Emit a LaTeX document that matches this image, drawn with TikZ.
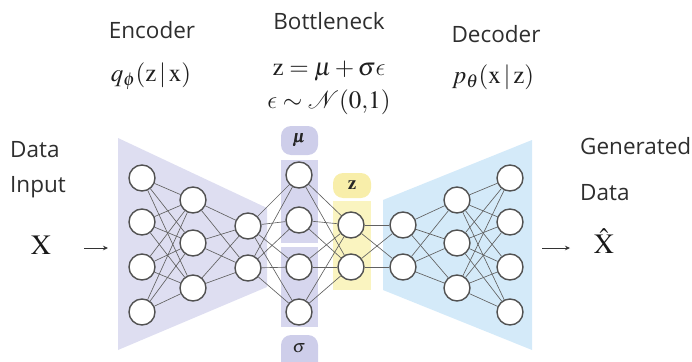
\documentclass[tikz,border=0pt]{standalone}
\usepackage{mathptmx}
\usepackage{bm}
\DeclareSymbolFont{cmlet}{OML}{cmm}{m}{it}
\DeclareMathSymbol{\lunateps}{\mathord}{cmlet}{"0F}
\usepackage{fontspec}
\newfontfamily\lab{Open Sans}
\usetikzlibrary{arrows.meta}
\definecolor{encfill}{RGB}{222,222,241}
\definecolor{musig}{RGB}{214,214,238}
\definecolor{pillc}{RGB}{206,206,234}
\definecolor{decfill}{RGB}{212,234,249}
\definecolor{yel}{RGB}{250,244,192}
\definecolor{yelpill}{RGB}{248,238,170}
\tikzset{
  neuron/.style={circle, draw=black!68, line width=1.4pt, fill=white, minimum size=26pt, inner sep=0pt},
  conn/.style={draw=black!62, line width=0.65pt},
  labtxt/.style={font=\lab\fontsize{22.5}{26}\selectfont, text=black!82, inner sep=0pt},
  mathtxt/.style={font=\fontsize{25}{29}\selectfont, text=black!88, inner sep=0pt},
  pill/.style={rounded corners=10pt, inner sep=0pt},
  arr/.style={-{Stealth[length=5pt,width=4.5pt]}, line width=0.8pt, draw=black!80}
}
\begin{document}
\begin{tikzpicture}[x=1pt,y=-1pt]
\useasboundingbox (0,0) rectangle (692,361);
% backgrounds
\fill[encfill] (118,138) -- (267,208) -- (267,287) -- (118,350) -- cycle;
\fill[decfill] (383,200) -- (532,140) -- (532,350) -- (383,290) -- cycle;
\fill[musig] (281,160) rectangle (318,243);
\fill[musig] (281,247) rectangle (318,327);
\fill[pillc, pill] (281,126) rectangle (318,155);
\fill[pillc, pill] (281,335) rectangle (318,374);
\fill[yel] (333,201) rectangle (371,290);
\fill[yelpill, pill] (333,173) rectangle (371,198);
% labels in pills
\node[font=\fontsize{18}{20}\selectfont, text=black!85] (mulab) at (299,140) {$\bm{\mu}$};
\node[font=\fontsize{18}{20}\selectfont, text=black!85] (siglab) at (299,348) {$\sigma$};
\node[font=\fontsize{19}{21}\selectfont, text=black!85] (zlab) at (352,185) {$\mathbf{z}$};
% neurons
\foreach \n/\y in {a/178,b/222,c/267,d/312} \node[neuron] (e1\n) at (142,\y) {};
\foreach \n/\y in {a/200,b/243,c/288} \node[neuron] (e2\n) at (193,\y) {};
\foreach \n/\y in {a/226,b/268} \node[neuron] (e3\n) at (248,\y) {};
\foreach \n/\y in {a/175,b/220,c/267,d/312} \node[neuron] (m\n) at (299,\y) {};
\foreach \n/\y in {a/225,b/267} \node[neuron] (z\n) at (351,\y) {};
\foreach \n/\y in {a/225,b/267} \node[neuron] (d1\n) at (403,\y) {};
\foreach \n/\y in {a/200,b/243,c/288} \node[neuron] (d2\n) at (457,\y) {};
\foreach \n/\y in {a/178,b/222,c/267,d/312} \node[neuron] (d3\n) at (510,\y) {};
% connections
\foreach \i in {a,b,c,d} \foreach \j in {a,b,c} \draw[conn] (e1\i) -- (e2\j);
\foreach \i in {a,b,c} \foreach \j in {a,b} \draw[conn] (e2\i) -- (e3\j);
\foreach \i in {a,b} \foreach \j in {a,b,c,d} \draw[conn] (e3\i) -- (m\j);
\foreach \i in {a,b,c,d} \foreach \j in {a,b} \draw[conn] (m\i) -- (z\j);
\foreach \i in {a,b} \foreach \j in {a,b} \draw[conn] (z\i) -- (d1\j);
\foreach \i in {a,b} \foreach \j in {a,b,c} \draw[conn] (d1\i) -- (d2\j);
\foreach \i in {a,b,c} \foreach \j in {a,b,c,d} \draw[conn] (d2\i) -- (d3\j);
% titles
\node[labtxt] (enc) at (152,30) {Encoder};
\node[mathtxt] (q) at (151,76) {$q_\phi(\mathrm{z}\,|\,\mathrm{x})$};
\node[labtxt] (bott) at (329,21) {Bottleneck};
\node[mathtxt] (zeq) at (329,71) {$\mathrm{z} = \mu + \sigma\lunateps$};
\node[mathtxt] (eps) at (329,102) {$\lunateps \sim \mathcal{N}(0{,}1)$};
\node[labtxt] (dec) at (496,34) {Decoder};
\node[mathtxt] (p) at (493,77) {$p_\theta(\mathrm{x}\,|\,\mathrm{z})$};
% side labels
\node[labtxt, anchor=west] (data) at (10,150) {Data};
\node[labtxt, anchor=west] (input) at (10,187) {Input};
\node[font=\fontsize{28}{32}\selectfont, text=black!90] (x) at (41,245) {$\mathrm{X}$};
\coordinate (xa) at (84,248);
\coordinate (xb) at (108,248);
\draw[arr] (xa) -- (xb);
\node[labtxt, anchor=west] (gen) at (580,146) {Generated};
\node[labtxt, anchor=west] (gdata) at (580,193) {Data};
\coordinate (ya) at (542,248);
\coordinate (yb) at (570,248);
\draw[arr] (ya) -- (yb);
\node[font=\fontsize{28}{32}\selectfont, text=black!90] (xhat) at (604,241) {$\hat{\mathrm{X}}$};
\end{tikzpicture}
\end{document}
